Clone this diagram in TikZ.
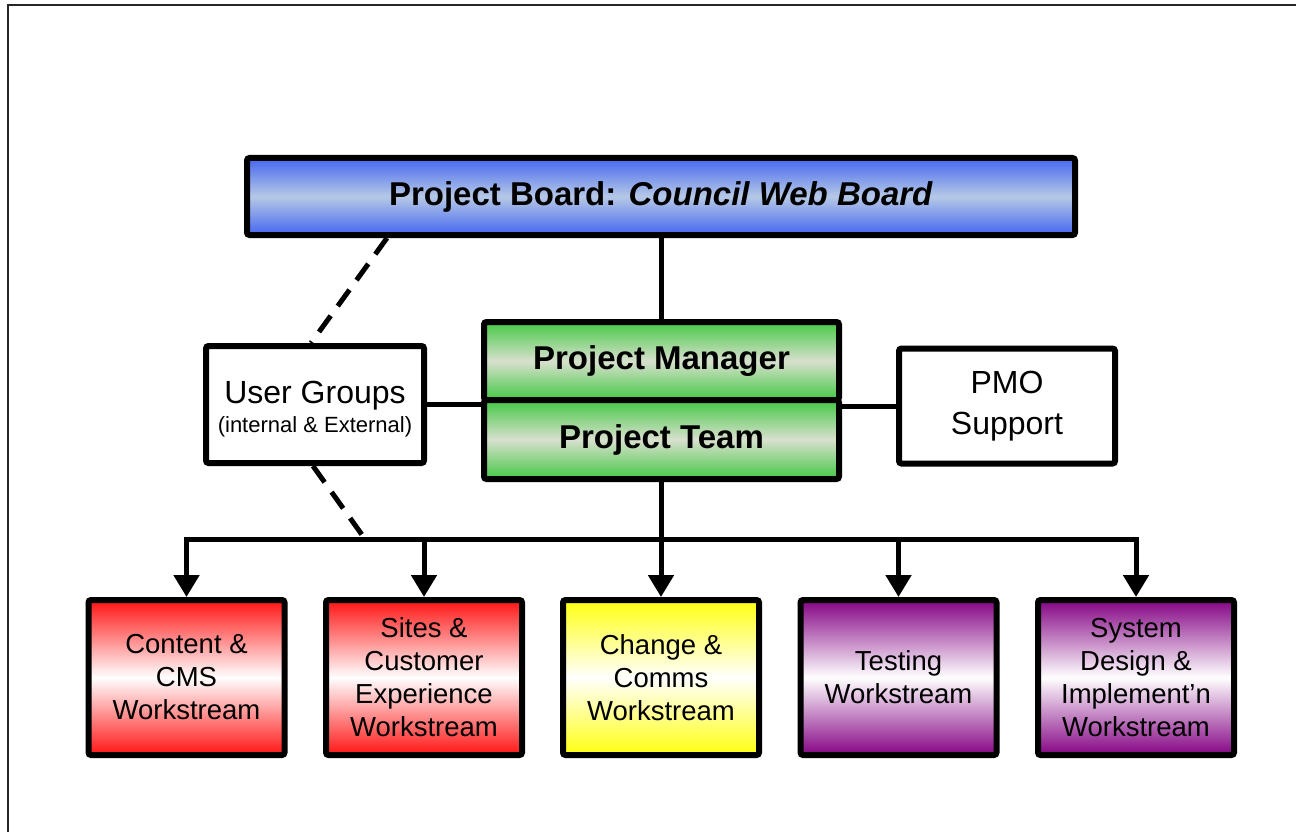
\documentclass[tikz,border=0pt]{standalone}
\usepackage{fontspec}
\setmainfont{Liberation Sans}
\usetikzlibrary{arrows.meta,calc}
\definecolor{bluedge}{HTML}{4466F0}
\definecolor{bluemid}{HTML}{B6C8E6}
\definecolor{greenedge}{HTML}{44C844}
\definecolor{greenmid}{HTML}{D8E0CE}
\definecolor{rededge}{HTML}{FF1414}
\definecolor{yellowedge}{HTML}{FFFF10}
\definecolor{purpleedge}{HTML}{840484}
\tikzset{
  box/.style={draw=black, line width=6pt, rounded corners=2.5pt, inner sep=0pt, align=center},
  bigtext/.style={font=\fontsize{33}{40}\selectfont},
  wstext/.style={font=\fontsize{27.5}{33}\selectfont},
  ws/.style={box, minimum width=196pt, minimum height=155pt, wstext},
  link/.style={line width=5pt},
  dashlink/.style={line width=5pt, dash pattern=on 20pt off 12pt},
  arr/.style={line width=5pt, -{Triangle[width=25pt,length=22pt]}, line join=miter},
  redbox/.style={top color=rededge, bottom color=rededge, middle color=white},
  yellowbox/.style={top color=yellowedge, bottom color=yellowedge, middle color=white},
  purplebox/.style={top color=purpleedge, bottom color=purpleedge, middle color=white},
  greenbox/.style={top color=greenedge, bottom color=greenedge, middle color=greenmid},
}
\begin{document}
\begin{tikzpicture}[x=1pt, y=-1pt]
\useasboundingbox (0,0) rectangle (1296,832);
\draw[line width=2.5pt, draw=black!85] (8,832) -- (8,5) -- (1296,5);

\node[box, top color=bluedge, bottom color=bluedge, middle color=bluemid,
      minimum width=828pt, minimum height=77pt, bigtext] (board) at (661,196.5)
      {\textbf{Project Board: \textit{Council Web Board}}};

\node[box, greenbox, minimum width=355pt, minimum height=78pt, bigtext] (pm) at (661.5,361) {\textbf{Project Manager}};
\node[box, greenbox, minimum width=355pt, minimum height=79pt, bigtext] (pt) at (661.5,439.5) {\textbf{Project Team}};

\node[box, fill=white, minimum width=218pt, minimum height=117pt] (ug) at (315,404.5)
  {{\fontsize{32}{36}\selectfont\rule{0pt}{32pt}User Groups}\\[5pt]{\fontsize{22}{26}\selectfont (internal \& External)}};
\node[box, fill=white, minimum width=216pt, minimum height=115pt, font=\fontsize{32}{41}\selectfont] (pmo) at (1007,406)
  {PMO\\Support};

\node[ws, redbox] (content) at (186.5,677.5) {Content \&\\CMS\\Workstream};
\node[ws, redbox] (sites) at (424,677.5) {Sites \&\\Customer\\Experience\\Workstream};
\node[ws, yellowbox] (change) at (661,677.5) {Change \&\\Comms\\Workstream};
\node[ws, purplebox] (testing) at (898.5,677.5) {Testing\\Workstream};
\node[ws, purplebox] (system) at (1136,677.5) {System\\Design \&\\Implement’n\\Workstream};

\coordinate (bus) at (661,539);

% connectors
\draw[link] (board.south -| pm.north) -- (pm.north);
\draw[link] (ug.east) -- (ug.east -| pm.west);
\draw[link] (pmo.west) -- (pmo.west -| pm.east);
\draw[link] (pt.south -| bus) -- (bus);
\draw[arr] (bus) -| (content.north);
\draw[arr] (bus) -| (sites.north);
\draw[arr] (bus) -- (change.north);
\draw[arr] (bus) -| (testing.north);
\draw[arr] (bus) -| (system.north);

\draw[dashlink] ([xshift=143pt]board.south west) -- ([xshift=108pt]ug.north west);
\coordinate (dashend) at (365,539);
\draw[dashlink] ([xshift=110pt]ug.south west) -- (dashend);
\end{tikzpicture}
\end{document}
